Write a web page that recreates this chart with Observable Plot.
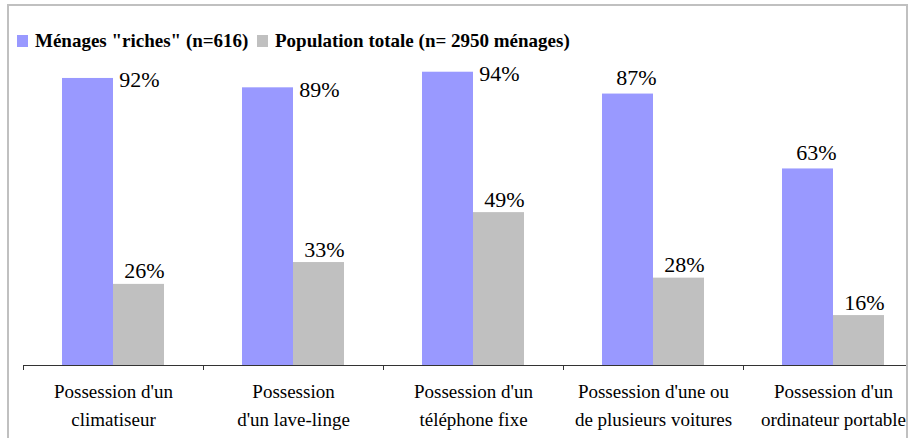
<!DOCTYPE html>
<html>
<head>
<meta charset="utf-8">
<script src="https://cdn.jsdelivr.net/npm/d3@7"></script>
<script src="https://cdn.jsdelivr.net/npm/@observablehq/plot@0.6"></script>
<style>
  html, body { margin: 0; padding: 0; background: #fff; }
  body { width: 909px; height: 438px; overflow: hidden; position: relative; font-family: "Liberation Serif", serif; }
  #frame { position: absolute; left: 7px; top: 4px; width: 897px; height: 440px; border: 2px solid #c0c0c0; overflow: hidden; background: #fff; }
  #legend { position: absolute; left: 0; top: 23.6px; width: 890px; height: 22px; font-size: 19px; line-height: 22px; font-weight: bold; color: #000; white-space: nowrap; font-family: "Liberation Serif", serif; }
  .item { position: absolute; top: 0; }
  .sw { display: inline-block; width: 11px; height: 12px; margin-right: 7px; vertical-align: baseline; }
  #chart { position: absolute; left: -9px; top: 44px; width: 930px; }
  #chart svg { max-width: none !important; }
</style>
</head>
<body>
<div id="frame">
  <div id="legend"></div>
  <div id="chart"></div>
</div>
<script>
const categories = [
  "Possession d'un\nclimatiseur",
  "Possession\nd'un lave-linge",
  "Possession d'un\ntéléphone fixe",
  "Possession d'une ou\nde plusieurs voitures",
  "Possession d'un\nordinateur portable"
];
const seriesNames = ['Ménages "riches" (n=616)', 'Population totale (n= 2950 ménages)'];
const riches = [92, 89, 94, 87, 63];
const total = [26, 33, 49, 28, 16];
const colors = ["#9999ff", "#c0c0c0"];

const richRows = categories.map((c, i) => ({cat: c, series: seriesNames[0], value: riches[i]}));
const totalRows = categories.map((c, i) => ({cat: c, series: seriesNames[1], value: total[i]}));

const FONT = "'Liberation Serif', serif";

// legend
const legend = document.getElementById("legend");
const legendLefts = [8, 248];
seriesNames.forEach((name, i) => {
  const it = document.createElement("span");
  it.className = "item";
  it.style.left = legendLefts[i] + "px";
  const sw = document.createElement("span");
  sw.className = "sw";
  sw.style.background = colors[i];
  it.appendChild(sw);
  it.appendChild(document.createTextNode(name));
  legend.appendChild(it);
});

const bw = 180; // band width in px
const chart = Plot.plot({
  width: 930,
  height: 388,
  marginLeft: 23,
  marginRight: 7,
  marginTop: 3,
  marginBottom: 73,
  x: {domain: categories, padding: 0, axis: null, label: null},
  y: {domain: [0, 100], axis: null},
  style: {fontFamily: FONT, background: "transparent", color: "#000", maxWidth: "none"},
  marks: [
    Plot.barY(richRows, {x: "cat", y: "value", fill: colors[0], insetLeft: 39, insetRight: 90}),
    Plot.barY(totalRows, {x: "cat", y: "value", fill: colors[1], insetLeft: 90, insetRight: 39}),
    Plot.ruleY([0], {stroke: "#333", strokeWidth: 1}),
    Plot.ruleX(categories, {x: d => d, dx: -bw / 2, y1: 0, y2: 0, insetBottom: -5, stroke: "#333"}),
    Plot.axisX({tickSize: 0, tickPadding: 13, fontSize: 19, lineHeight: 1.45, fill: "#000", label: null, fontFamily: FONT}),
    Plot.text(richRows.filter(d => d.value > 88), {x: "cat", y: "value", text: d => d.value + "%", dx: 26, dy: 9, lineAnchor: "bottom", fontSize: 22, fill: "#000", fontFamily: FONT}),
    Plot.text(richRows.filter(d => d.value <= 88), {x: "cat", y: "value", text: d => d.value + "%", dx: -17, dy: -9, lineAnchor: "bottom", fontSize: 22, fill: "#000", fontFamily: FONT}),
    Plot.text(totalRows, {x: "cat", y: "value", text: d => d.value + "%", dx: 31, dy: -6, lineAnchor: "bottom", fontSize: 22, fill: "#000", fontFamily: FONT})
  ]
});
document.getElementById("chart").appendChild(chart);
</script>
</body>
</html>
